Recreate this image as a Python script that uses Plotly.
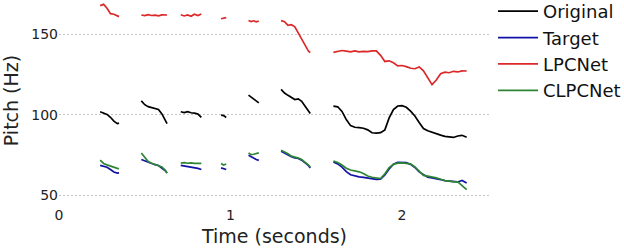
import plotly.graph_objects as go

# Time stamps (seconds) per voiced segment
t_seg = [
    [0.24, 0.26, 0.28, 0.30, 0.32, 0.34, 0.35],
    [0.48, 0.50, 0.52, 0.54, 0.56, 0.58, 0.60, 0.62, 0.63],
    [0.71, 0.73, 0.75, 0.77, 0.79, 0.81, 0.83],
    [0.945, 0.96, 0.975],
    [1.105, 1.12, 1.135, 1.15, 1.165],
    [1.295, 1.315, 1.335, 1.355, 1.375, 1.395, 1.415, 1.435, 1.455, 1.465],
    [1.60, 1.625, 1.65, 1.675, 1.70, 1.725, 1.75, 1.775, 1.80, 1.825, 1.85, 1.875,
     1.90, 1.925, 1.95, 1.975, 2.00, 2.025, 2.05, 2.075, 2.10, 2.125, 2.15, 2.175,
     2.20, 2.225, 2.25, 2.275, 2.30, 2.325, 2.35, 2.377],
]

original = [
    [101.8, 101.0, 100.2, 98.4, 96.0, 94.5, 94.8],
    [108.6, 106.2, 105.0, 104.4, 103.6, 103.2, 100.5, 96.5, 94.5],
    [101.8, 101.3, 101.9, 101.2, 101.0, 100.4, 98.3],
    [99.7, 99.4, 98.3],
    [112.1, 111.0, 109.6, 108.5, 107.3],
    [115.7, 113.4, 112.0, 110.9, 109.4, 109.8, 108.3, 105.2, 102.4, 100.7],
    [105.3, 104.9, 102.0, 97.0, 93.2, 92.2, 92.0, 91.6, 90.6, 88.8, 88.6, 88.9,
     90.6, 98.0, 103.2, 105.4, 105.6, 104.6, 102.2, 99.2, 95.2, 91.4, 90.0, 89.0,
     88.2, 87.3, 86.6, 86.1, 85.9, 86.8, 87.2, 86.0],
]

target = [
    [68.6, 68.0, 67.4, 66.0, 64.5, 63.8, 63.9],
    [72.2, 71.4, 70.2, 69.6, 69.0, 68.5, 67.0, 65.2, 63.9],
    [68.6, 68.3, 67.9, 67.6, 67.2, 66.7, 66.0],
    [67.0, 66.4, 66.0],
    [74.8, 73.8, 72.9, 72.2, 71.7],
    [77.4, 76.2, 75.0, 74.0, 73.2, 72.9, 71.8, 70.2, 68.4, 67.0],
    [70.7, 69.5, 67.5, 64.7, 62.8, 62.0, 61.5, 61.2, 60.7, 60.2, 59.9, 60.0,
     62.6, 66.3, 69.3, 70.5, 70.6, 70.3, 69.2, 67.3, 64.5, 62.6, 61.2, 60.8,
     60.4, 59.8, 59.1, 58.8, 58.5, 58.3, 59.2, 57.6],
]

lpcnet = [
    [167.6, 168.4, 166.0, 162.6, 162.3, 161.0, 160.8],
    [161.8, 161.4, 162.0, 161.5, 161.7, 161.3, 161.9, 161.6, 161.8],
    [162.0, 161.2, 161.8, 161.0, 162.3, 161.5, 162.4],
    [159.5, 159.7, 160.2],
    [158.4, 157.7, 158.2, 157.6, 158.1],
    [158.3, 157.6, 155.4, 155.8, 154.5, 150.5, 146.8, 143.0, 139.3, 138.5],
    [138.6, 139.0, 139.8, 139.4, 139.0, 139.5, 139.0, 139.3, 139.1, 139.6, 139.6, 136.8,
     133.0, 133.4, 132.2, 130.3, 130.5, 129.8, 128.8, 128.5, 129.6, 127.2, 122.8, 118.6,
     121.5, 125.4, 126.4, 126.0, 126.9, 126.5, 127.2, 127.1],
]

clpcnet = [
    [71.8, 69.8, 68.9, 68.0, 67.1, 66.7, 66.6],
    [76.3, 73.6, 71.0, 69.9, 69.2, 68.6, 67.6, 65.5, 63.9],
    [70.0, 70.3, 69.9, 70.1, 69.8, 69.6, 69.8],
    [69.7, 68.8, 69.4],
    [76.3, 75.2, 75.5, 76.0, 76.3],
    [78.0, 77.0, 75.8, 74.3, 73.8, 73.1, 72.2, 70.6, 68.8, 67.6],
    [71.3, 70.4, 68.8, 66.8, 65.7, 65.2, 64.6, 63.6, 62.0, 61.2, 60.7, 60.4,
     63.4, 67.2, 69.2, 70.0, 70.1, 70.0, 69.5, 67.6, 64.8, 62.4, 61.9, 61.5,
     60.8, 60.0, 59.1, 58.8, 58.3, 58.4, 56.2, 53.5],
]

x_ticks = [0, 1, 2]
y_ticks = [50, 100, 150]

series = [
    ("Original", original, "#000000"),
    ("Target", target, "#1212a6"),
    ("LPCNet", lpcnet, "#dc2828"),
    ("CLPCNet", clpcnet, "#2e8534"),
]


def flatten(segs):
    out = []
    for i, s in enumerate(segs):
        if i:
            out.append(None)
        out.extend(s)
    return out


tx = flatten(t_seg)
fig = go.Figure()
for name, segs, color in series:
    fig.add_trace(go.Scatter(
        x=tx, y=flatten(segs), mode="lines", name=name, legendgroup=name,
        connectgaps=False, line=dict(color=color, width=1.7),
    ))

font = "DejaVu Sans, Liberation Sans, sans-serif"
fig.update_layout(
    width=624, height=250,
    margin=dict(l=59, r=134, t=0, b=49, autoexpand=False),
    paper_bgcolor="white", plot_bgcolor="white",
    font=dict(family=font, color="#222222", size=14),
    showlegend=True,
    legend=dict(
        x=1.007, y=1.035, xanchor="left", yanchor="top",
        font=dict(size=18, family=font, color="#111111"),
        tracegroupgap=0, itemwidth=40, bgcolor="rgba(0,0,0,0)",
    ),
    xaxis=dict(
        range=[0, 2.513], tickvals=x_ticks, ticktext=[str(v) for v in x_ticks],
        showgrid=False, zeroline=False, showline=False, ticks="",
        automargin=False,
        tickfont=dict(size=14), ticklabelstandoff=4,
        title=dict(text="Time (seconds)", font=dict(size=19), standoff=7),
    ),
    yaxis=dict(
        range=[46.5, 171.1], tickvals=y_ticks, ticktext=[str(v) for v in y_ticks],
        showgrid=True, gridcolor="#c4c4c4", gridwidth=0.7, griddash="2px,2px",
        zeroline=False, showline=False, ticks="",
        automargin=False,
        tickfont=dict(size=14), ticklabelstandoff=0,
        title=dict(text="Pitch (Hz)", font=dict(size=19), standoff=7),
    ),
)

fig.write_html(
    "out.html",
    config={"displayModeBar": False},
    post_script="document.body.style.margin='0';document.body.style.overflow='hidden';",
)
